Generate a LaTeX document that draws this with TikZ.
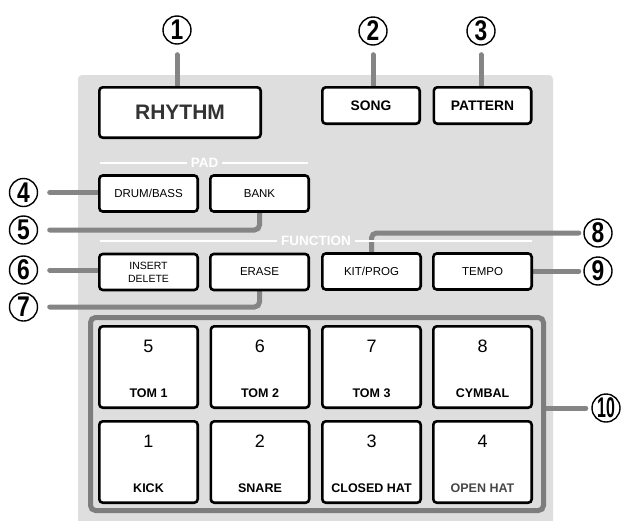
\documentclass[tikz,border=0pt]{standalone}
\usepackage{graphicx}
\usepackage{fontspec}
\setmainfont{Liberation Sans}
\usetikzlibrary{positioning,backgrounds}
\definecolor{panelgray}{HTML}{DEDEDE}
\definecolor{leadgray}{HTML}{858585}
\definecolor{framegray}{HTML}{7D7D7D}
\tikzset{
  button/.style={draw=black, fill=white, line width=2.6pt, rounded corners=3.5pt, inner sep=0pt},
  bigbutton/.style={button, minimum width=161.4pt, minimum height=50.4pt,
    font=\bfseries\fontsize{21}{24}\selectfont, text=black!80},
  modebutton/.style={button, minimum width=97.4pt, minimum height=36.4pt,
    font=\bfseries\fontsize{13.8}{16}\selectfont},
  smallbutton/.style={button, minimum width=98.4pt, minimum height=36pt,
    font=\fontsize{11.5}{13}\selectfont, align=center},
  pad/.style={button, minimum width=98.4pt, minimum height=81.4pt},
  padnum/.style={anchor=base, inner sep=0pt, font=\fontsize{18}{20}\selectfont},
  padname/.style={anchor=base, inner sep=0pt, font=\bfseries\fontsize{12.5}{14}\selectfont},
  section/.style={text=white, inner sep=0pt, font=\bfseries\fontsize{13.5}{15}\selectfont},
  sectionline/.style={draw=white, line width=1.5pt},
  padframe/.style={draw=framegray, line width=5pt, rounded corners=5pt,
    minimum width=453pt, minimum height=193pt},
  callout/.style={circle, draw=black, line width=1.4pt, minimum size=28pt, inner sep=0pt,
    font=\bfseries\fontsize{28.5}{30}\selectfont},
  leader/.style={draw=leadgray, line width=5pt, line cap=round, rounded corners=5pt}
}
\newcommand{\callnum}[1]{\scalebox{0.8}[1]{#1}}

\begin{document}
\begin{tikzpicture}[x=1pt, y=-1pt]
  \useasboundingbox (0,0) rectangle (623,520);
  %% top row
  \node[bigbutton]  (rhythm)  at (180,112.5) {RHYTHM};
  \node[modebutton] (song)    at (371,105.5) {SONG};
  \node[modebutton] (pattern) at (482.5,105.5) {PATTERN};
  %% pad section
  \node[section] (padlbl) at (204.5,163) {PAD};
  \coordinate (padL) at (100,163);
  \coordinate (padR) at (308,163);
  \draw[sectionline, shorten >=4pt] (padL) -- (padlbl.west);
  \draw[sectionline, shorten <=4pt] (padlbl.east) -- (padR);
  \node[smallbutton] (drum) at (148.5,193.5) {DRUM/BASS};
  \node[smallbutton] (bank) at (259.5,193.5) {BANK};
  %% function section
  \node[section] (funclbl) at (316,241) {FUNCTION};
  \coordinate (funcL) at (100,241);
  \coordinate (funcR) at (532,241);
  \draw[sectionline, shorten >=4pt] (funcL) -- (funclbl.west);
  \draw[sectionline, shorten <=4pt] (funclbl.east) -- (funcR);
  \node[smallbutton, font=\fontsize{10.5}{12.7}\selectfont] (insert) at (148.5,272) {INSERT\\DELETE};
  \node[smallbutton] (erase) at (259.5,272) {ERASE};
  \node[smallbutton] (kit)   at (371.5,271.5) {KIT/PROG};
  \node[smallbutton] (tempo) at (482.5,271.5) {TEMPO};
  %% pads
  \node[padframe] (frame) at (317,414) {};
  \node[pad] (pad5) at (148.5,367) {};
  \node[pad] (pad6) at (260,367) {};
  \node[pad] (pad7) at (371.5,367) {};
  \node[pad] (pad8) at (482.5,367) {};
  \node[pad] (pad1) at (148.5,462) {};
  \node[pad] (pad2) at (260,462) {};
  \node[pad] (pad3) at (371.5,462) {};
  \node[pad] (pad4) at (482.5,462) {};
  \node[padnum] (num5) at (148.5,352.6) {5};
  \node[padnum] (num6) at (260,352.6) {6};
  \node[padnum] (num7) at (371.5,352.6) {7};
  \node[padnum] (num8) at (482.5,352.6) {8};
  \node[padnum] (num1) at (148.5,447.4) {1};
  \node[padnum] (num2) at (260,447.4) {2};
  \node[padnum] (num3) at (371.5,447.4) {3};
  \node[padnum] (num4) at (482.5,447.4) {4};
  \node[padname] (name5) at (148.5,397.3) {TOM 1};
  \node[padname] (name6) at (260,397.3) {TOM 2};
  \node[padname] (name7) at (371.5,397.3) {TOM 3};
  \node[padname] (name8) at (482.5,397.3) {CYMBAL};
  \node[padname] (name1) at (148.5,492.3) {KICK};
  \node[padname] (name2) at (260,492.3) {SNARE};
  \node[padname] (name3) at (371.5,492.3) {CLOSED HAT};
  \node[padname, text=black!72] (name4) at (482.5,492.3) {OPEN HAT};
  %% callouts
  \node[callout] (c1) at (177,30) {\callnum{1}};
  \node[callout] (c2) at (373,31) {\callnum{2}};
  \node[callout] (c3) at (481,31) {\callnum{3}};
  \node[callout] (c4) at (23.5,192.5) {\callnum{4}};
  \node[callout] (c5) at (23.5,230) {\callnum{5}};
  \node[callout] (c6) at (23.5,270) {\callnum{6}};
  \node[callout] (c7) at (23.5,307) {\callnum{7}};
  \node[callout] (c8) at (598,233) {\callnum{8}};
  \node[callout] (c9) at (598,271) {\callnum{9}};
  \node[callout] (c10) at (606,408) {\scalebox{0.56}[1]{10}};
  %% panel and leaders
  \begin{scope}[on background layer]
    \fill[panelgray, rounded corners=4pt] (78,75) rectangle (553,530);
    \draw[leader, shorten <=10pt] (c1) -- (c1 |- rhythm.north);
    \draw[leader, shorten <=9pt] (c2) -- (c2 |- song.north);
    \draw[leader, shorten <=9pt] (c3) -- (c3 |- pattern.north);
    \draw[leader, shorten <=11.5pt] (c4) -- (c4 -| drum.west);
    \draw[leader, shorten <=11.5pt] (c5) -- (c5 -| bank.south) -- (bank.south);
    \draw[leader, shorten <=11.5pt] (c6) -- (c6 -| insert.west);
    \draw[leader, shorten <=11.5pt] (c7) -- (c7 -| erase.south) -- (erase.south);
    \draw[leader, shorten <=4.5pt] (c8) -- (c8 -| kit.north) -- (kit.north);
    \draw[leader, shorten <=4.5pt] (c9) -- (c9 -| tempo.east);
    \draw[leader, shorten <=5.5pt] (c10) -- (c10 -| frame.east);
  \end{scope}
\end{tikzpicture}
\end{document}
